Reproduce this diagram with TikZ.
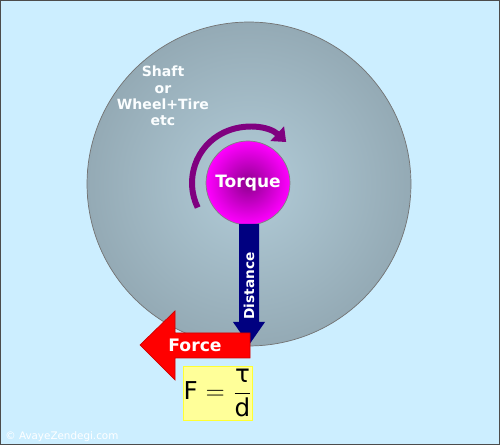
\documentclass[tikz,border=0pt]{standalone}
\usepackage{amsmath}
\usepackage{fontspec}
\setmainfont{DejaVu Sans}
\usetikzlibrary{arrows.meta}
\definecolor{sky}{HTML}{CCEEFF}
\definecolor{disc-edge}{HTML}{94AAB5}
\definecolor{disc-mid}{HTML}{B2CCD8}
\definecolor{hub-edge}{HTML}{FF00FF}
\definecolor{hub-mid}{HTML}{8E008E}
\definecolor{turn}{HTML}{800080}
\definecolor{navy}{HTML}{000080}
\definecolor{note-fill}{HTML}{FFFF99}
\definecolor{note-edge}{HTML}{FFFF33}
\tikzset{
    wheel-disc/.style = {circle, draw=black!55, thin, inner sep=0pt, minimum size=6.48cm, inner color=disc-mid, outer color=disc-edge},
    wheel-label/.style = {text=white!92!sky, font=\fontsize{8}{9.3}\selectfont\bfseries, align=center},
    torque-hub/.style = {circle, draw=black!50, thin, inner sep=0pt, minimum size=1.68cm, inner color=hub-mid, outer color=hub-edge, text=white, font=\fontsize{9.7}{11}\selectfont\bfseries},
    turn-arrow/.style = {draw=turn, line width=3.4pt, -{Triangle[length=7pt, width=11pt]}},
    arrow-label/.style = {text=white, font=\bfseries},
    formula-box/.style = {draw=note-edge, fill=note-fill, thin, minimum width=1.28cm, minimum height=1.08cm, inner sep=0pt, font=\fontsize{14}{16}\selectfont},
}

\begin{document}
\begin{tikzpicture}[x=0.02cm, y=0.02cm]
\fill[sky] (0,0) rectangle (500,445);
\draw[black!70, thin] (0.5,0.5) rectangle (499.5,444.5);
\useasboundingbox (0,0) rectangle (500,445);

\node[wheel-disc] (wheel) at (249,261) {};
\node[wheel-label] (name) at (163,349) {Shaft\\or\\Wheel+Tire\\etc};

\node[torque-hub] (hub) at (248,262) {Torque};
\draw[turn-arrow] (hub.center) ++(206:1.12cm) arc[start angle=206, end angle=47, radius=1.12cm];

% distance arm
\fill[navy] (239,221) -- (259,221) -- (259,123) -- (265,123) -- (249,100) -- (233,123) -- (239,123) -- cycle;
\node[arrow-label, rotate=90, font=\fontsize{7.8}{9}\selectfont\bfseries] (dist) at (249,159) {Distance};

% force
\filldraw[fill=red, draw=red!80!black, thin] (250,112) -- (175,112) -- (175,134) -- (140,100) -- (175,65) -- (175,87) -- (250,87) -- cycle;
\node[arrow-label, font=\fontsize{9.8}{11}\selectfont\bfseries] (force) at (195,100) {Force};

\node[formula-box] (law) at (218,52) {F $=$ $\dfrac{\text{τ}}{\text{d}}$};

\node[anchor=west, inner sep=0pt, text=white, font=\fontsize{5.9}{6}\selectfont] (mark) at (5,8) {© AvayeZendegi.com};
\end{tikzpicture}
\end{document}
